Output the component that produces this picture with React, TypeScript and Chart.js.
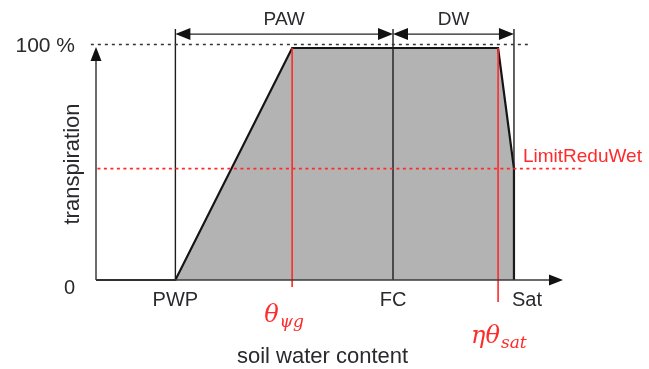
import React, { useEffect, useRef } from "react";
import { Chart, registerables } from "chart.js";

Chart.register(...registerables);

// Soil water content (relative units along the horizontal axis)
const thresholdNames = ["PWP", "FC", "Sat"];
const thresholdX = [17, 63.6, 89.5];

// Transpiration response curve (fraction of potential)
const curveX = [0, 17, 42, 86.1, 89.5, 89.5];
const curveY = [0, 0, 1, 1, 0.48, 0];

// Wet-stress reduction limit
const limitReduWet = 0.48;
const limitLabel = "LimitReduWet";

// Red marker lines: θψg and ηθsat
const markerX = [42, 86.1];
const markerBottom = [-0.03, -0.095];

// Ranges shown above the plot
const spanNames = ["PAW", "DW"];
const spanStart = [17, 63.6];
const spanEnd = [63.6, 89.5];

// Vertical axis labels
const yTickValues = [0, 1];
const yTickLabels = ["0", "100 %"];

const xAxisTitle = "soil water content";
const yAxisTitle = "transpiration";

const SANS = '"Liberation Sans", Arial, sans-serif';
const SERIF = '"DejaVu Serif", "Liberation Serif", serif';
const INK = "#2a2a2e";
const RED = "#ff2a2a";

function arrowHead(ctx: CanvasRenderingContext2D, tx: number, ty: number, dx: number, dy: number, len: number, half: number) {
  // dx,dy: unit direction the arrow points to
  const bx = tx - dx * len;
  const by = ty - dy * len;
  ctx.beginPath();
  ctx.moveTo(tx, ty);
  ctx.lineTo(bx - dy * half, by + dx * half);
  ctx.lineTo(bx + dy * half, by - dx * half);
  ctx.closePath();
  ctx.fill();
}

const diagramPlugin = {
  id: "diagramDecor",
  afterDatasetsDraw(chart: any) {
    const ctx: CanvasRenderingContext2D = chart.ctx;
    const xs = chart.scales.x;
    const ys = chart.scales.y;
    const X = (v: number) => xs.getPixelForValue(v);
    const Y = (v: number) => ys.getPixelForValue(v);
    ctx.save();

    // Axes with arrowheads
    ctx.strokeStyle = "#3a3a3a";
    ctx.fillStyle = "#111";
    ctx.lineWidth = 1.5;
    ctx.beginPath();
    ctx.moveTo(X(0), Y(0));
    ctx.lineTo(X(100) - 10, Y(0));
    ctx.stroke();
    arrowHead(ctx, X(100), Y(0), 1, 0, 14, 5.5);
    ctx.beginPath();
    ctx.moveTo(X(0), Y(0));
    ctx.lineTo(X(0), Y(1.004) + 10);
    ctx.stroke();
    arrowHead(ctx, X(0), Y(1.004), 0, -1, 14, 5.5);

    // Range arrows above the plot
    const spanY = Y(1.06);
    ctx.lineWidth = 1.3;
    ctx.strokeStyle = "#222";
    ctx.font = `19px ${SANS}`;
    ctx.textAlign = "center";
    ctx.textBaseline = "middle";
    spanNames.forEach((name, i) => {
      const a = X(spanStart[i]);
      const b = X(spanEnd[i]);
      ctx.beginPath();
      ctx.moveTo(a + 8, spanY);
      ctx.lineTo(b - 8, spanY);
      ctx.stroke();
      ctx.fillStyle = "#111";
      arrowHead(ctx, a, spanY, -1, 0, 15, 6);
      arrowHead(ctx, b, spanY, 1, 0, 15, 6);
      ctx.fillStyle = INK;
      ctx.fillText(name, (a + b) / 2, spanY - 14);
    });

    // Vertical axis tick labels
    ctx.fillStyle = INK;
    ctx.font = `20px ${SANS}`;
    ctx.textAlign = "right";
    ctx.fillText(yTickLabels[0], X(0) - 21, Y(yTickValues[0]) + 8);
    ctx.font = `21px ${SANS}`;
    ctx.fillText(yTickLabels[1], X(0) - 21, Y(yTickValues[1]) - 2);
    ctx.font = `20px ${SANS}`;

    // Threshold labels under the axis
    thresholdNames.forEach((name, i) => {
      const px = X(thresholdX[i]);
      if (i === thresholdNames.length - 1) {
        ctx.textAlign = "left";
        ctx.fillText(name, px - 2, Y(0) + 20);
      } else {
        ctx.textAlign = "center";
        ctx.fillText(name, px, Y(0) + 20);
      }
    });

    // Axis titles
    ctx.font = `22px ${SANS}`;
    ctx.textAlign = "center";
    ctx.textBaseline = "alphabetic";
    ctx.fillText(xAxisTitle, X(48.5), Y(0) + 83);
    ctx.save();
    ctx.translate(X(0) - 23, Y(0.5));
    ctx.rotate(-Math.PI / 2);
    ctx.textBaseline = "middle";
    ctx.fillText(yAxisTitle, 0, 0);
    ctx.restore();

    // Wet limit label
    ctx.fillStyle = RED;
    ctx.font = `19px ${SANS}`;
    ctx.textAlign = "left";
    ctx.textBaseline = "alphabetic";
    ctx.fillText(limitLabel, X(thresholdX[2]) + 9, Y(limitReduWet) - 7);

    // Math labels for the red markers
    const mathLabel = (main: string, sub: string, x0: number, base: number) => {
      ctx.font = `italic 24px ${SERIF}`;
      ctx.fillText(main, x0, base);
      const w = ctx.measureText(main).width;
      ctx.font = `italic 17px ${SERIF}`;
      ctx.fillText(sub, x0 + w + 1, base + 5);
    };
    mathLabel("θ", "ψg", X(markerX[0]) - 28, Y(0) + 42);
    mathLabel("ηθ", "sat", X(markerX[1]) - 27, Y(0) + 63);

    ctx.restore();
  },
};

export default function App() {
  const canvasRef = useRef<HTMLCanvasElement | null>(null);

  useEffect(() => {
    if (!canvasRef.current) return;
    const curve = curveX.map((x, i) => ({ x, y: curveY[i] }));
    const thresholdSets = thresholdX.map((x) => ({
      data: [
        { x, y: 0 },
        { x, y: 1.082 },
      ],
      borderColor: "#1e1e1e",
      borderWidth: 1.4,
      order: 3,
    }));
    const markerSets = markerX.map((x, i) => ({
      data: [
        { x, y: markerBottom[i] },
        { x, y: 1 },
      ],
      borderColor: RED,
      borderWidth: 1.6,
      order: 1,
    }));

    const chart = new Chart(canvasRef.current, {
      type: "scatter",
      data: {
        datasets: [
          {
            data: curve,
            borderColor: "#151515",
            borderWidth: 2.2,
            backgroundColor: "#b3b3b3",
            fill: "origin",
            order: 5,
          },
          ...thresholdSets,
          {
            // 100 % reference line
            data: [
              { x: -1.1, y: 1.015 },
              { x: 93.2, y: 1.015 },
            ],
            borderColor: "#333",
            borderWidth: 1.3,
            borderDash: [3, 4],
            order: 2,
          },
          {
            data: [
              { x: 0.3, y: limitReduWet },
              { x: 104, y: limitReduWet },
            ],
            borderColor: RED,
            borderWidth: 1.6,
            borderDash: [3, 3.5],
            order: 2,
          },
          ...markerSets,
        ].map((d: any) => ({
          showLine: true,
          pointRadius: 0,
          pointHoverRadius: 0,
          clip: false,
          fill: false,
          ...d,
        })),
      },
      options: {
        responsive: false,
        animation: false,
        events: [],
        layout: {
          padding: { left: 49.3, right: 39.3, top: 13.2, bottom: 19.4 },
        },
        plugins: {
          legend: { display: false },
          tooltip: { enabled: false },
        },
        scales: {
          x: { type: "linear", min: -10, max: 110, display: false },
          y: { type: "linear", min: -0.3, max: 1.15, display: false },
        },
      },
      plugins: [diagramPlugin],
    });
    return () => chart.destroy();
  }, []);

  return (
    <div style={{ position: "fixed", left: 0, top: 0, width: 649, height: 369, background: "#fff" }}>
      <canvas ref={canvasRef} width={649} height={369} />
    </div>
  );
}
